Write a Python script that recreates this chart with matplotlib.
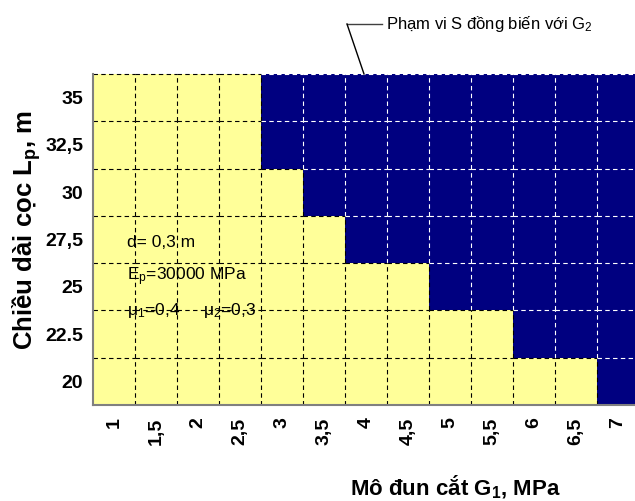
import matplotlib
matplotlib.use("Agg")
import matplotlib.pyplot as plt
import numpy as np
from matplotlib import font_manager as fm
from matplotlib.colors import ListedColormap

# ---- data ----
g1_labels = ["1", "1,5", "2", "2,5", "3", "3,5", "4", "4,5", "5", "5,5", "6", "6,5", "7"]
g1_values = [1, 1.5, 2, 2.5, 3, 3.5, 4, 4.5, 5, 5.5, 6, 6.5, 7]
lp_labels = ["20", "22.5", "25", "27,5", "30", "32,5", "35"]
lp_values = [20, 22.5, 25, 27.5, 30, 32.5, 35]
# smallest G1 (MPa) from which S increases with G2, per pile length
onset_g1 = [7, 6, 5, 4, 3.5, 3, 3]

names = {f.name for f in fm.fontManager.ttflist}
narrow = "Liberation Sans Narrow" if "Liberation Sans Narrow" in names else "Liberation Sans"
plt.rcParams['font.family'] = [narrow, 'DejaVu Sans']

YELLOW = "#FFFF99"
NAVY = "#000080"

Z = np.array([[1 if g >= o else 0 for g in g1_values] for o in onset_g1])
nr, nc = Z.shape

fig = plt.figure(figsize=(6.35, 5.01), dpi=100)
ax = fig.add_axes([93/635, 1-405/501, 546/635, 331/501])
ax.pcolormesh(np.arange(nc+1), np.arange(nr+1), Z, cmap=ListedColormap([YELLOW, NAVY]),
              vmin=0, vmax=1, shading='flat')
ax.set_xlim(0, nc)
ax.set_ylim(0, nr)

dash = (0, (4, 3))
lw = 0.8
for j in range(1, nc):
    for i in range(nr):
        both_dark = Z[i, j-1] == 1 and Z[i, j] == 1
        ax.plot([j, j], [i, i+1], color='white' if both_dark else 'black',
                lw=lw, linestyle=dash, clip_on=False)
for i in range(1, nr+1):
    for j in range(nc):
        below = Z[i-1, j] == 1
        above = Z[i, j] == 1 if i < nr else True
        ax.plot([j, j+1], [i, i], color='white' if (below and above) else 'black',
                lw=lw, linestyle=dash, clip_on=False)

for s in ['top', 'right']:
    ax.spines[s].set_visible(False)
for s in ['left', 'bottom']:
    ax.spines[s].set_color('#808080')
    ax.spines[s].set_linewidth(1.5)

ax.set_xticks(np.arange(nc) + 0.5)
ax.set_xticklabels(g1_labels, rotation=90, fontsize=14, fontweight='bold', va='top')
ax.set_yticks(np.arange(nr) + 0.5)
ax.set_yticklabels(lp_labels, fontsize=14, fontweight='bold')
ax.tick_params(axis='x', length=0, pad=9)
ax.tick_params(axis='y', length=0, pad=7)

fig.text(350/635, 1-487/501, r"Mô đun cắt G$\mathregular{_1}$, MPa", fontsize=16,
         fontweight='bold', family=['Liberation Sans', 'DejaVu Sans'], va='center', ha='left')
fig.text(27/635, 1-230/501, r"Chiều dài cọc L$\mathregular{_p}$, m", fontsize=18.5,
         fontweight='bold', family=['Liberation Sans', 'DejaVu Sans'], rotation=90,
         va='center', ha='center')

tx = (127-93)/42
fs = 12.5
ax.text(tx, (405-243)/47.2, "d= 0,3 m", fontsize=fs, va='center', ha='left')
ax.text(tx, (405-277)/47.2, r"E$\mathregular{_p}$=30000 MPa", fontsize=fs, va='center', ha='left')
ax.text(tx, (405-311)/47.2, r"μ$\mathregular{_1}$=0,4", fontsize=fs, va='center', ha='left')
ax.text((203-93)/42, (405-311)/47.2, r"μ$\mathregular{_2}$=0,3", fontsize=fs, va='center', ha='left')

fig.text(386/635, 1-24/501, r"Phạm vi S đồng biến với G$\mathregular{_2}$", fontsize=12,
         va='center', ha='left')
fig.add_artist(plt.Line2D([347/635, 382/635], [1-24/501, 1-24/501], color='#404040', lw=1))
fig.add_artist(plt.Line2D([347/635, 364/635], [1-24/501, 1-74/501], color='black', lw=1))

fig.savefig("out.png", dpi=100)
